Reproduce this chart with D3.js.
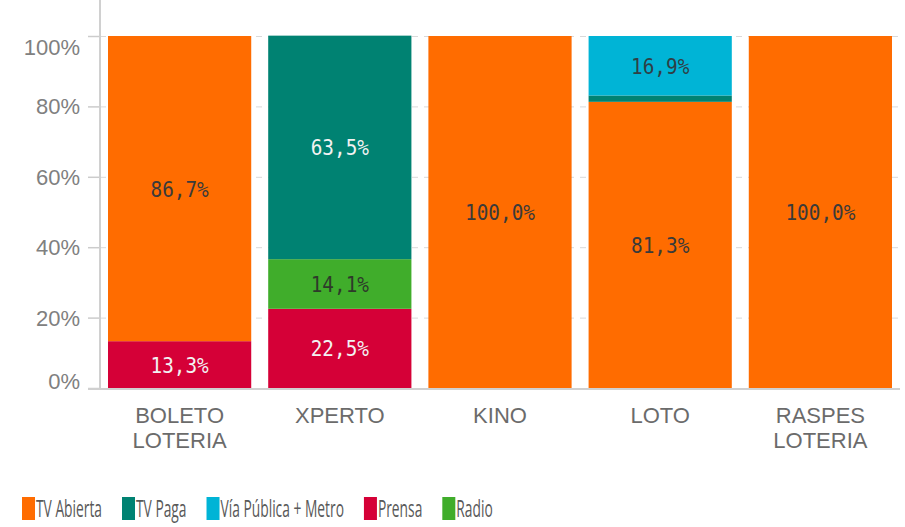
<!DOCTYPE html>
<html>
<head>
<meta charset="utf-8">
<script src="https://cdn.jsdelivr.net/npm/d3@7/dist/d3.min.js"></script>
<style>
  body { margin: 0; background: #fff; }
  svg { display: block; }
</style>
</head>
<body>
<svg width="905" height="527"></svg>
<script>
var categories = ["BOLETO LOTERIA", "XPERTO", "KINO", "LOTO", "RASPES LOTERIA"];

// stack order, bottom to top
var series = ["Prensa", "Radio", "TV Abierta", "TV Paga", "Vía Pública + Metro"];
var legendOrder = ["TV Abierta", "TV Paga", "Vía Pública + Metro", "Prensa", "Radio"];

var prensa     = [13.3, 22.5, 0, 0, 0];
var radio      = [0, 14.1, 0, 0, 0];
var tvAbierta  = [86.7, 0, 100, 81.3, 100];
var tvPaga     = [0, 63.5, 0, 1.8, 0];
var viaPublica = [0, 0, 0, 16.9, 0];

var yTicks = [0, 20, 40, 60, 80, 100];

var colors = {
  "TV Abierta": "#ff6c00",
  "TV Paga": "#008272",
  "Vía Pública + Metro": "#00b4d6",
  "Prensa": "#d50037",
  "Radio": "#40ad2b"
};
var labelColors = {
  "TV Abierta": "#3a3a3a",
  "TV Paga": "#f2f2f2",
  "Vía Pública + Metro": "#2f3f45",
  "Prensa": "#f2f2f2",
  "Radio": "#2e3a2a"
};

var bySeries = {
  "Prensa": prensa, "Radio": radio, "TV Abierta": tvAbierta,
  "TV Paga": tvPaga, "Vía Pública + Metro": viaPublica
};

var table = categories.map(function(c, i) {
  var row = {cat: c};
  series.forEach(function(s) { row[s] = bySeries[s][i]; });
  return row;
});

var svg = d3.select("svg");

var x = d3.scaleBand()
    .domain(categories)
    .range([100, 900])
    .paddingInner(0.106)
    .paddingOuter(0.05);

var y = d3.scaleLinear()
    .domain([0, 100])
    .range([388, 36]);

var stack = d3.stack().keys(series)(table);

// dashed grid lines
svg.append("g")
  .selectAll("line").data(yTicks).enter().append("line")
    .attr("x1", 100).attr("x2", 900)
    .attr("y1", function(d) { return y(d) + 0.5; })
    .attr("y2", function(d) { return y(d) + 0.5; })
    .attr("stroke", "#d9d9d9")
    .attr("stroke-dasharray", "6,6");

// bars
var layer = svg.append("g").selectAll("g").data(stack).enter().append("g")
    .attr("fill", function(d) { return colors[d.key]; });

layer.selectAll("rect").data(function(d) { return d; }).enter().append("rect")
    .attr("x", function(d) { return x(d.data.cat); })
    .attr("width", x.bandwidth())
    .attr("y", function(d) { return y(d[1]); })
    .attr("height", function(d) { return y(d[0]) - y(d[1]); });

// value labels
stack.forEach(function(s) {
  svg.append("g").selectAll("text")
    .data(s.filter(function(d) { return d[1] - d[0] >= 5; }))
    .enter().append("text")
      .attr("transform", function(d) {
        var cx = x(d.data.cat) + x.bandwidth() / 2;
        var cy = (y(d[0]) + y(d[1])) / 2;
        return "translate(" + cx + "," + cy + ") scale(0.88,1)";
      })
      .attr("dy", "0.36em")
      .attr("text-anchor", "middle")
      .style("font-family", "'DejaVu Sans Mono', monospace")
      .style("font-size", "22px")
      .attr("fill", labelColors[s.key])
      .text(function(d) { return (d[1] - d[0]).toFixed(1).replace(".", ",") + "%"; });
});

// y axis
var yAxis = svg.append("g")
    .attr("transform", "translate(100,0)")
    .call(d3.axisLeft(y).tickValues(yTicks).tickSize(12).tickPadding(8)
      .tickFormat(function(d) { return d + "%"; }));
yAxis.select(".domain").remove();
yAxis.selectAll(".tick line").attr("stroke", "#cccccc").attr("stroke-width", 1.5);
yAxis.selectAll(".tick text")
    .style("font-family", "'Liberation Sans', Arial, sans-serif")
    .style("font-size", "22px")
    .attr("fill", "#808080")
    .attr("dy", function(d) { return d === 100 ? "0.82em" : d === 0 ? "0.02em" : "0.34em"; });

svg.append("line")
    .attr("x1", 100).attr("x2", 100).attr("y1", 0).attr("y2", 389)
    .attr("stroke", "#d0d0d0").attr("stroke-width", 2);
svg.append("line")
    .attr("x1", 88).attr("x2", 900).attr("y1", 389).attr("y2", 389)
    .attr("stroke", "#d0d0d0").attr("stroke-width", 2);

// x labels
var xl = svg.append("g").selectAll("text").data(categories).enter().append("text")
    .attr("x", function(d) { return x(d) + x.bandwidth() / 2; })
    .attr("y", 423)
    .attr("text-anchor", "middle")
    .style("font-family", "'Liberation Sans', Arial, sans-serif")
    .style("font-size", "22px")
    .attr("fill", "#6b6b6b");
xl.selectAll("tspan").data(function(d) { return d.split(" "); }).enter().append("tspan")
    .attr("x", function() { var p = d3.select(this.parentNode).datum(); return x(p) + x.bandwidth() / 2; })
    .attr("dy", function(d, i) { return i === 0 ? 0 : 25; })
    .text(function(d) { return d; });

// legend
var squeeze = 0.575;
var lx = 22;
legendOrder.forEach(function(k) {
  var g = svg.append("g").attr("transform", "translate(" + lx + ",0)");
  g.append("rect").attr("x", 0).attr("y", 497).attr("width", 13).attr("height", 23)
    .attr("fill", colors[k]);
  var t = g.append("text")
    .attr("transform", "translate(14,517) scale(" + squeeze + ",1)")
    .style("font-family", "'Open Sans', sans-serif")
    .style("font-size", "24px")
    .attr("fill", "#595959")
    .text(k);
  lx += 14 + t.node().getComputedTextLength() * squeeze + 20;
});
</script>
</body>
</html>
